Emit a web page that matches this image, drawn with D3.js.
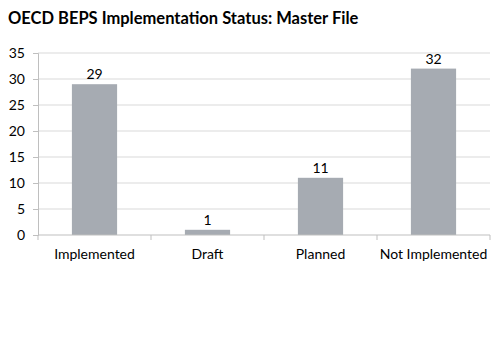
<!DOCTYPE html>
<html>
<head>
<meta charset="utf-8">
<script src="https://cdn.jsdelivr.net/npm/d3@7"></script>
<style>
  body { margin: 0; background: #fff; }
  svg text { font-family: Lato, "Open Sans", sans-serif; fill: #000; }
</style>
</head>
<body>
<svg id="chart"></svg>
<script>
// Chart data
const categories = ["Implemented", "Draft", "Planned", "Not Implemented"];
const counts = [29, 1, 11, 32];
const yTicks = [0, 5, 10, 15, 20, 25, 30, 35];

const margin = { top: 53, right: 10, bottom: 119, left: 38 },
    width = 500 - margin.left - margin.right,
    height = 354 - margin.top - margin.bottom;

const svg = d3.select("#chart")
    .attr("width", 500)
    .attr("height", 354);

// Title
svg.append("text")
    .attr("x", 8)
    .attr("y", 24)
    .style("font-size", "16.5px")
    .style("font-weight", "bold")
    .text("OECD BEPS Implementation Status: Master File");

const g = svg.append("g")
    .attr("transform", `translate(${margin.left},${margin.top})`);

const x = d3.scaleBand()
    .domain(categories)
    .range([0, width])
    .paddingInner(0.6)
    .paddingOuter(0.3);

const y = d3.scaleLinear()
    .domain([0, 35])
    .range([height, 0]);

// Gridlines
g.append("g")
    .selectAll("line")
    .data(yTicks.filter(d => d > 0))
    .enter()
    .append("line")
    .attr("x1", 0)
    .attr("x2", width)
    .attr("y1", d => y(d))
    .attr("y2", d => y(d))
    .attr("stroke", "#d9d9d9")
    .attr("stroke-width", 1);

// Y axis
const yAxis = g.append("g")
    .call(d3.axisLeft(y).tickValues(yTicks).tickSize(5).tickPadding(8));
yAxis.select(".domain").attr("stroke", "#bfbfbf");
yAxis.selectAll(".tick line").attr("stroke", "#bfbfbf");
yAxis.selectAll("text").style("font-size", "14px").attr("fill", "#000");

// Bars
g.selectAll(".bar")
    .data(counts)
    .enter()
    .append("rect")
    .attr("class", "bar")
    .attr("x", (d, i) => x(categories[i]))
    .attr("width", x.bandwidth())
    .attr("y", d => y(d))
    .attr("height", d => height - y(d))
    .attr("fill", "#a6abb2");

// Value labels
g.selectAll(".value")
    .data(counts)
    .enter()
    .append("text")
    .attr("class", "value")
    .attr("x", (d, i) => x(categories[i]) + x.bandwidth() / 2)
    .attr("y", d => y(d) - 5)
    .attr("text-anchor", "middle")
    .style("font-size", "14px")
    .text(d => d);

// X axis: baseline plus boundary ticks between categories
const xg = g.append("g").attr("transform", `translate(0,${height})`);
xg.append("line")
    .attr("x1", 0).attr("x2", width)
    .attr("stroke", "#bfbfbf");
xg.selectAll(".bound")
    .data(d3.range(categories.length + 1))
    .enter()
    .append("line")
    .attr("x1", i => i * width / categories.length)
    .attr("x2", i => i * width / categories.length)
    .attr("y1", 0).attr("y2", 5)
    .attr("stroke", "#bfbfbf");
xg.selectAll(".cat")
    .data(categories)
    .enter()
    .append("text")
    .attr("x", d => x(d) + x.bandwidth() / 2)
    .attr("y", 24)
    .attr("text-anchor", "middle")
    .style("font-size", "14px")
    .text(d => d);
</script>
</body>
</html>
